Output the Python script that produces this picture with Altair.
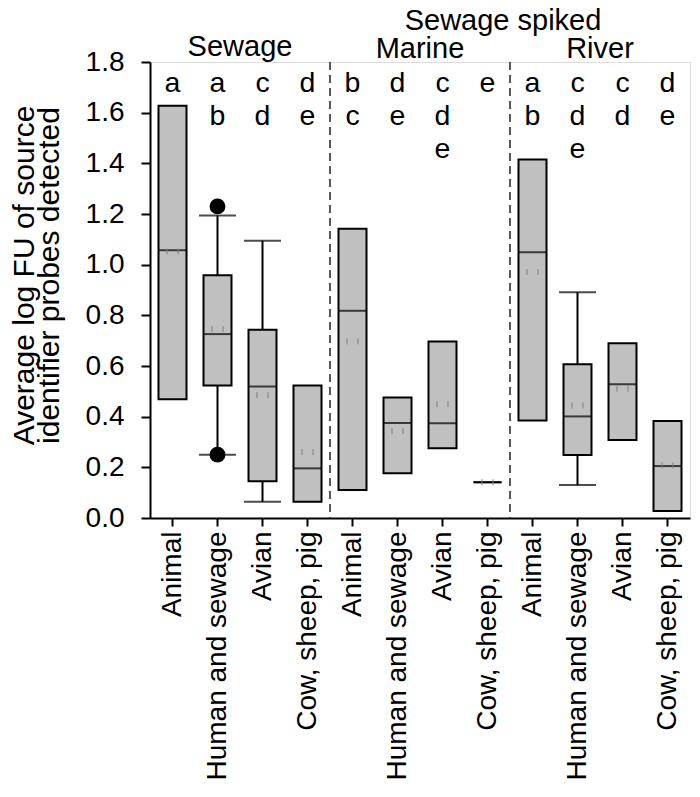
import altair as alt
import pandas as pd

# ---------------- data ----------------
groups = ["Sewage"] * 4 + ["Marine"] * 4 + ["River"] * 4
sources = ["Animal", "Human and sewage", "Avian", "Cow, sheep, pig"] * 3
q1 = [0.469, 0.523, 0.145, 0.064, 0.111, 0.177, 0.275, 0.141, 0.385, 0.249, 0.308, 0.028]
q3 = [1.627, 0.958, 0.743, 0.523, 1.142, 0.476, 0.697, 0.141, 1.415, 0.607, 0.690, 0.383]
median = [1.057, 0.726, 0.519, 0.196, 0.818, 0.375, 0.374, 0.141, 1.049, 0.401, 0.528, 0.205]
mean = [1.052, 0.746, 0.485, 0.260, 0.697, 0.344, 0.449, 0.141, 0.971, 0.444, 0.510, 0.207]
whisker_lo = [None, 0.250, 0.064, None, None, None, None, None, None, 0.130, None, None]
whisker_hi = [None, 1.194, 1.094, None, None, None, None, None, None, 0.891, None, None]
letters = ["a", "a b", "c d", "d e", "b c", "d e", "c d e", "e", "a b", "c d e", "c d", "d e"]
outlier_key = ["Sewage|Human and sewage", "Sewage|Human and sewage"]
outlier_val = [1.230, 0.250]
panels = ["Sewage", "Marine", "River"]
panel_anchor = ["Sewage|Avian", "Marine|Avian", "River|Avian"]
divider_keys = ["Marine|Animal", "River|Animal"]
super_title = "Sewage spiked"
y_ticks = [0.0, 0.2, 0.4, 0.6, 0.8, 1.0, 1.2, 1.4, 1.6, 1.8]
y_title = ["Average log FU of source", "identifier probes detected"]

keys = [f"{g}|{s}" for g, s in zip(groups, sources)]

box_df = pd.DataFrame({"key": keys, "q1": q1, "q3": q3, "median": median,
                       "mean": mean, "letters": letters})
wh_df = pd.DataFrame({"key": keys, "lo": whisker_lo, "hi": whisker_hi}).dropna()
cap_df = pd.concat([
    wh_df[["key", "lo"]].rename(columns={"lo": "v"}),
    wh_df[["key", "hi"]].rename(columns={"hi": "v"}),
])
out_df = pd.DataFrame({"key": outlier_key, "v": outlier_val})
panel_df = pd.DataFrame({"key": panel_anchor, "label": panels})
div_df = pd.DataFrame({"key": divider_keys})
super_df = pd.DataFrame({"key": ["River|Animal"], "label": [super_title]})

FONT = "Liberation Sans"
FS = 28

x_scale = alt.Scale(domain=keys, paddingInner=0, paddingOuter=0)
x_axis = alt.Axis(title=None, labelAngle=-90, labelFontSize=FS, labelColor="black",
                  labelExpr="split(datum.label, '|')[1]", labelLimit=0,
                  tickSize=8, tickWidth=2,
                  tickColor="black", domainColor="black", domainWidth=2,
                  labelPadding=5, labelFont=FONT)
y_scale = alt.Scale(domain=[0, 1.8], nice=False, zero=True)
y_axis = alt.Axis(values=y_ticks, format=".1f", title=y_title, titleFontSize=30,
                  titleFontWeight="normal", titleFont=FONT, titleColor="black",
                  titleLineHeight=25, titleAngle=-90, titleBaseline="alphabetic",
                  titleX=-117, titleY=213, titleAlign="center",
                  labelFontSize=FS, labelFont=FONT, labelColor="black",
                  tickSize=9, tickWidth=2, tickColor="black", domainColor="black",
                  domainWidth=2, labelPadding=17, grid=False)


def X(**kw):
    return alt.X("key:N", scale=x_scale, axis=x_axis, **kw)


def Y(field):
    return alt.Y(f"{field}:Q", scale=y_scale, axis=y_axis)


dividers = alt.Chart(div_df).mark_rule(color="#222222", strokeWidth=1.5,
                                       strokeDash=[8, 5]).encode(
    x=X(bandPosition=0))

whisk = alt.Chart(wh_df).mark_rule(color="black", strokeWidth=2).encode(
    x=X(), y=Y("lo"), y2="hi:Q")

caps = alt.Chart(cap_df).mark_tick(color="black", size=37, thickness=2).encode(
    x=X(), y=Y("v"))

boxes = alt.Chart(box_df).mark_bar(size=28, color="#c0c0c0", stroke="black",
                                   strokeWidth=2).encode(
    x=X(), y=Y("q1"), y2="q3:Q")

medians = alt.Chart(box_df).mark_tick(color="black", size=28, thickness=2).encode(
    x=X(), y=Y("median"))

means = alt.Chart(box_df).mark_point(
    shape="M-0.55,-0.3L-0.55,0.3M0.55,-0.3L0.55,0.3", size=400, filled=False,
    color="#808080", strokeWidth=1, opacity=1).encode(x=X(), y=Y("mean"))

outliers = alt.Chart(out_df).mark_circle(color="black", size=250, opacity=1).encode(
    x=X(), y=Y("v"))

letter_text = alt.Chart(box_df).mark_text(
    fontSize=28.5, font=FONT, lineBreak=" ", lineHeight=33, baseline="alphabetic",
    align="center", color="black").encode(
    x=X(), y=alt.value(30), text="letters:N")

sewage_text = alt.Chart(panel_df.iloc[:1]).mark_text(
    fontSize=29, font=FONT, baseline="alphabetic", align="center", color="black").encode(
    x=X(bandPosition=0), y=alt.value(-6), text="label:N")

spiked_text = alt.Chart(panel_df.iloc[1:]).mark_text(
    fontSize=29, font=FONT, baseline="alphabetic", align="center", color="black").encode(
    x=X(bandPosition=0), y=alt.value(-4), text="label:N")

super_text = alt.Chart(super_df).mark_text(
    fontSize=29, font=FONT, baseline="alphabetic", align="center", color="black",
    dx=-7).encode(
    x=X(bandPosition=0), y=alt.value(-32), text="label:N")

chart = alt.layer(dividers, whisk, caps, boxes, medians, means, outliers,
                  letter_text, sewage_text, spiked_text, super_text).properties(
    width=540, height=456,
    padding={"left": 142, "top": 54, "right": 2, "bottom": 266},
    autosize=alt.AutoSizeParams(type="none"),
).configure_view(stroke="black", strokeWidth=2).configure(font=FONT)

chart.save("out.html", embed_options={"renderer": "svg", "actions": False})
